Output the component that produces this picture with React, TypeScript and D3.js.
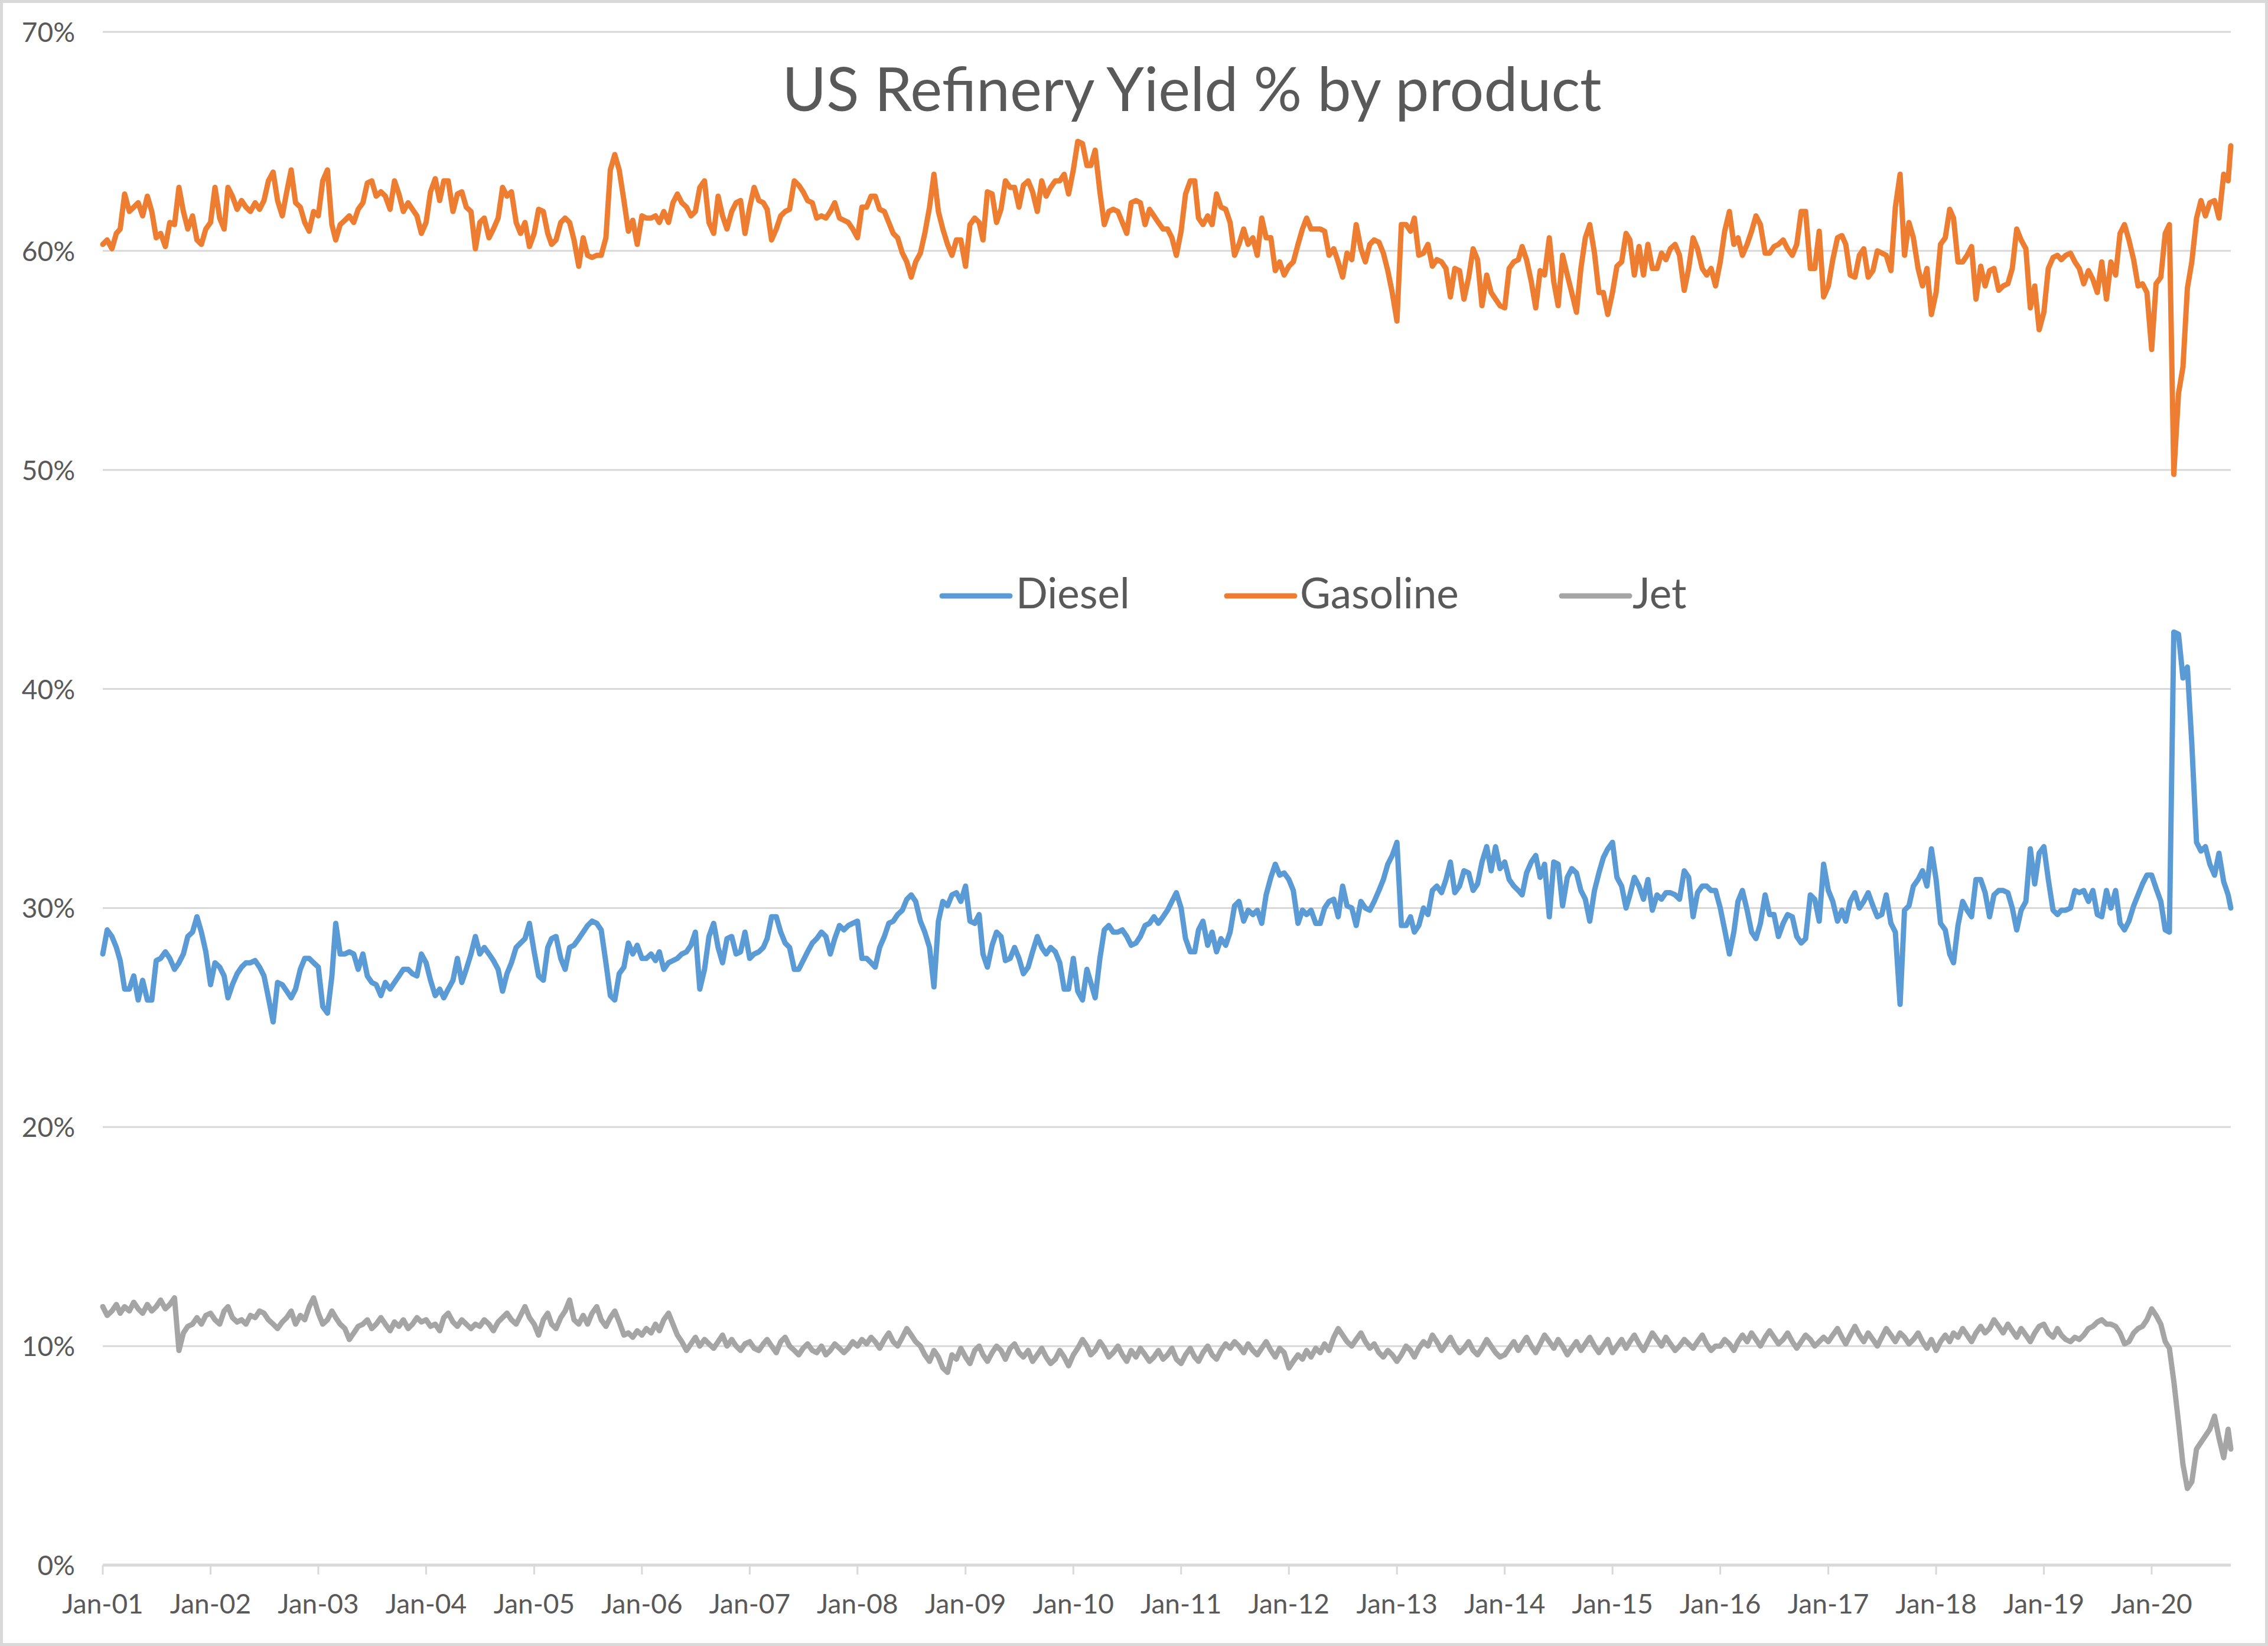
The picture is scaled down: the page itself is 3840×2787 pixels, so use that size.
import React from "react";
import * as d3 from "d3";

const WIDTH = 3840;
const HEIGHT = 2787;

const TITLE = "US Refinery Yield % by product";
const SERIES_NAMES = ["Diesel", "Gasoline", "Jet"];
const SERIES_COLORS = ["#5B9BD5", "#ED7D31", "#A5A5A5"];
const Y_TICKS = [0, 10, 20, 30, 40, 50, 60, 70];
const FIRST_YEAR = 2001;
const LAST_YEAR_TICK = 2020;
const LAST_DATE = new Date(2020, 8, 25);

// Semi-monthly readings (1st and 16th of each month), one row per year; 2020 ends with 25 Sep.
const diesel = [
  27.9, 29.0, 28.7, 28.2, 27.6, 26.3, 26.3, 26.9, 25.8, 26.7, 25.8, 25.8, 27.6, 27.7, 28.0, 27.7, 27.2, 27.5, 27.9, 28.7, 28.9, 29.6, 28.9, 28.0,
  26.5, 27.5, 27.3, 26.9, 25.9, 26.5, 27.0, 27.3, 27.5, 27.5, 27.6, 27.3, 26.9, 25.9, 24.8, 26.6, 26.5, 26.2, 25.9, 26.3, 27.2, 27.7, 27.7, 27.5,
  27.3, 25.5, 25.2, 26.9, 29.3, 27.9, 27.9, 28.0, 27.9, 27.2, 27.9, 26.9, 26.6, 26.5, 26.0, 26.6, 26.3, 26.6, 26.9, 27.2, 27.2, 27.0, 26.9, 27.9,
  27.5, 26.7, 26.0, 26.3, 25.9, 26.3, 26.7, 27.7, 26.6, 27.2, 27.9, 28.7, 27.9, 28.2, 27.9, 27.6, 27.2, 26.2, 27.0, 27.5, 28.2, 28.4, 28.6, 29.3,
  28.0, 26.9, 26.7, 28.2, 28.6, 28.7, 27.7, 27.2, 28.2, 28.3, 28.6, 28.9, 29.2, 29.4, 29.3, 29.0, 27.5, 26.0, 25.8, 27.0, 27.3, 28.4, 27.9, 28.3,
  27.7, 27.7, 27.9, 27.6, 28.0, 27.2, 27.5, 27.6, 27.7, 27.9, 28.0, 28.3, 28.9, 26.3, 27.2, 28.7, 29.3, 28.2, 27.5, 28.6, 28.7, 27.9, 28.0, 28.9,
  27.7, 27.9, 28.0, 28.2, 28.6, 29.6, 29.6, 28.9, 28.4, 28.2, 27.2, 27.2, 27.6, 28.0, 28.4, 28.6, 28.9, 28.7, 27.9, 28.6, 29.2, 29.0, 29.2, 29.3,
  29.4, 27.7, 27.7, 27.5, 27.3, 28.2, 28.7, 29.3, 29.4, 29.7, 29.9, 30.4, 30.6, 30.3, 29.4, 28.9, 28.2, 26.4, 29.4, 30.3, 30.1, 30.6, 30.7, 30.3,
  31.0, 29.4, 29.3, 29.7, 27.9, 27.3, 28.3, 28.9, 28.7, 27.6, 27.7, 28.2, 27.7, 27.0, 27.3, 28.0, 28.7, 28.2, 27.9, 28.2, 28.0, 27.5, 26.3, 26.3,
  27.7, 26.2, 25.8, 27.2, 26.6, 25.9, 27.7, 29.0, 29.2, 28.9, 28.9, 29.0, 28.7, 28.3, 28.4, 28.7, 29.2, 29.3, 29.6, 29.3, 29.6, 29.9, 30.3, 30.7,
  30.0, 28.6, 28.0, 28.0, 29.0, 29.4, 28.3, 28.9, 28.0, 28.6, 28.3, 28.9, 30.1, 30.3, 29.4, 29.9, 29.7, 29.9, 29.3, 30.6, 31.4, 32.0, 31.5, 31.6,
  31.3, 30.8, 29.3, 29.9, 29.7, 29.9, 29.3, 29.3, 30.0, 30.3, 30.4, 29.6, 31.0, 30.1, 30.0, 29.2, 30.3, 30.0, 29.9, 30.3, 30.8, 31.3, 32.0, 32.4,
  33.0, 29.2, 29.2, 29.6, 28.9, 29.2, 30.0, 29.7, 30.8, 31.0, 30.7, 31.3, 32.1, 30.7, 31.0, 31.7, 31.6, 30.8, 31.1, 32.1, 32.8, 31.7, 32.8, 31.8,
  32.1, 31.3, 31.0, 30.8, 30.6, 31.6, 32.1, 32.4, 31.4, 32.0, 29.6, 32.1, 32.0, 30.1, 31.4, 31.8, 31.6, 30.8, 30.4, 29.4, 30.8, 31.6, 32.3, 32.7,
  33.0, 31.4, 31.0, 30.0, 30.6, 31.4, 31.0, 30.4, 31.3, 29.9, 30.6, 30.4, 30.7, 30.7, 30.6, 30.4, 31.7, 31.4, 29.6, 30.7, 31.0, 31.0, 30.8, 30.8,
  30.0, 29.0, 27.9, 28.9, 30.3, 30.8, 29.9, 28.9, 28.6, 29.3, 30.6, 29.7, 29.7, 28.7, 29.3, 29.7, 29.6, 28.7, 28.4, 28.6, 30.6, 30.4, 29.4, 32.0,
  30.8, 30.3, 29.4, 29.9, 29.4, 30.3, 30.7, 30.0, 30.3, 30.7, 30.1, 29.6, 29.7, 30.6, 29.3, 28.9, 25.6, 29.9, 30.1, 31.0, 31.3, 31.7, 31.0, 32.7,
  31.3, 29.3, 29.0, 27.9, 27.5, 29.2, 30.3, 29.9, 29.6, 31.3, 31.3, 30.7, 29.6, 30.6, 30.8, 30.8, 30.7, 30.0, 29.0, 29.9, 30.3, 32.7, 31.1, 32.5,
  32.8, 31.3, 29.9, 29.7, 29.9, 29.9, 30.0, 30.8, 30.7, 30.8, 30.3, 30.8, 29.7, 29.6, 30.8, 30.0, 30.8, 29.3, 29.0, 29.4, 30.1, 30.6, 31.1, 31.5,
  31.5, 30.9, 30.3, 29.0, 28.9, 42.6, 42.5, 40.5, 41.0, 37.5, 33.0, 32.6, 32.8, 32.0, 31.5, 32.5, 31.2, 30.6, 30.0,
];

const gasoline = [
  60.3, 60.5, 60.1, 60.8, 61.0, 62.6, 61.8, 62.0, 62.2, 61.6, 62.5, 61.8, 60.6, 60.8, 60.2, 61.3, 61.2, 62.9, 61.8, 61.0, 61.6, 60.5, 60.3, 61.0,
  61.3, 62.9, 61.5, 61.0, 62.9, 62.5, 61.9, 62.3, 62.0, 61.8, 62.2, 61.9, 62.3, 63.2, 63.6, 62.3, 61.6, 62.7, 63.7, 62.2, 62.0, 61.3, 60.9, 61.8,
  61.6, 63.2, 63.7, 61.2, 60.5, 61.2, 61.4, 61.6, 61.3, 61.9, 62.2, 63.1, 63.2, 62.5, 62.7, 62.5, 61.9, 63.2, 62.6, 61.8, 62.2, 61.9, 61.6, 60.8,
  61.3, 62.7, 63.3, 62.3, 63.2, 63.2, 61.8, 62.6, 62.7, 62.0, 61.8, 60.1, 61.3, 61.5, 60.6, 61.0, 61.5, 62.9, 62.5, 62.7, 61.3, 60.8, 61.3, 60.2,
  60.8, 61.9, 61.8, 60.8, 60.3, 60.5, 61.3, 61.5, 61.3, 60.5, 59.3, 60.6, 59.8, 59.7, 59.8, 59.8, 60.6, 63.7, 64.4, 63.7, 62.3, 60.9, 61.4, 60.3,
  61.6, 61.5, 61.5, 61.6, 61.3, 61.8, 61.3, 62.2, 62.6, 62.2, 62.0, 61.6, 61.8, 62.9, 63.2, 61.3, 60.8, 62.5, 61.6, 61.0, 61.8, 62.2, 62.3, 60.8,
  62.0, 62.9, 62.3, 62.2, 61.9, 60.5, 61.0, 61.6, 61.8, 61.9, 63.2, 63.0, 62.7, 62.3, 62.2, 61.5, 61.6, 61.5, 61.8, 62.2, 61.5, 61.4, 61.3, 61.0,
  60.6, 62.0, 62.0, 62.5, 62.5, 61.9, 61.8, 61.3, 60.8, 60.6, 59.9, 59.5, 58.8, 59.5, 59.9, 60.8, 62.0, 63.5, 61.8, 61.0, 60.3, 59.8, 60.5, 60.5,
  59.3, 61.2, 61.5, 61.3, 60.5, 62.7, 62.6, 61.3, 61.9, 63.2, 62.9, 62.9, 62.0, 63.0, 63.2, 62.7, 61.8, 63.2, 62.5, 62.9, 63.2, 63.2, 63.5, 62.6,
  63.7, 65.0, 64.9, 63.9, 63.9, 64.6, 62.7, 61.2, 61.8, 61.9, 61.8, 61.3, 60.8, 62.2, 62.3, 62.2, 61.2, 61.9, 61.6, 61.3, 61.0, 61.0, 60.6, 59.8,
  60.9, 62.6, 63.2, 63.2, 61.5, 61.2, 61.6, 61.2, 62.6, 62.0, 61.9, 61.3, 59.8, 60.3, 61.0, 60.3, 60.6, 59.8, 61.5, 60.6, 60.6, 59.1, 59.5, 58.9,
  59.3, 59.5, 60.3, 61.0, 61.5, 61.0, 61.0, 61.0, 60.9, 59.8, 60.1, 59.5, 58.8, 59.9, 59.6, 61.2, 60.1, 59.5, 60.3, 60.5, 60.4, 59.9, 59.1, 58.1,
  56.8, 61.2, 61.2, 60.9, 61.5, 59.8, 59.9, 60.3, 59.3, 59.6, 59.5, 59.2, 57.9, 59.2, 59.1, 57.8, 58.8, 60.1, 59.6, 57.5, 58.9, 58.1, 57.8, 57.5,
  57.4, 59.2, 59.5, 59.6, 60.2, 59.6, 58.6, 57.4, 59.1, 58.9, 60.6, 58.6, 57.5, 59.8, 58.9, 58.1, 57.2, 59.2, 60.6, 61.2, 59.9, 58.1, 58.1, 57.1,
  58.1, 59.3, 59.5, 60.8, 60.5, 58.9, 60.2, 58.9, 60.3, 59.2, 59.2, 59.9, 59.6, 60.1, 60.3, 59.8, 58.2, 59.2, 60.6, 60.1, 59.2, 58.9, 59.2, 58.4,
  59.5, 60.9, 61.8, 60.3, 60.6, 59.8, 60.3, 60.9, 61.6, 61.2, 59.9, 59.9, 60.2, 60.3, 60.5, 60.1, 59.8, 60.3, 61.8, 61.8, 59.2, 59.2, 60.9, 57.9,
  58.4, 59.6, 60.6, 60.7, 60.3, 58.9, 58.8, 59.8, 60.1, 58.8, 59.1, 60.0, 59.9, 59.8, 59.1, 62.0, 63.5, 59.8, 61.3, 60.6, 59.2, 58.4, 59.2, 57.1,
  58.1, 60.3, 60.6, 61.9, 61.5, 59.5, 59.5, 59.8, 60.2, 57.8, 59.3, 58.4, 59.1, 59.2, 58.2, 58.4, 58.5, 59.2, 61.0, 60.5, 60.1, 57.4, 58.4, 56.4,
  57.2, 59.2, 59.7, 59.8, 59.6, 59.8, 59.9, 59.5, 59.2, 58.5, 59.1, 58.7, 58.1, 59.5, 57.8, 59.5, 58.9, 60.8, 61.2, 60.5, 59.6, 58.4, 58.5, 58.1,
  55.5, 58.5, 58.8, 60.8, 61.2, 49.8, 53.5, 54.7, 58.3, 59.5, 61.5, 62.3, 61.6, 62.2, 62.3, 61.5, 63.5, 63.2, 64.8,
];

const jet = [
  11.8, 11.4, 11.6, 11.9, 11.5, 11.8, 11.6, 12.0, 11.7, 11.5, 11.9, 11.6, 11.8, 12.1, 11.7, 11.9, 12.2, 9.8, 10.6, 10.9, 11.0, 11.3, 11.0, 11.4,
  11.5, 11.2, 11.0, 11.6, 11.8, 11.3, 11.1, 11.2, 11.0, 11.4, 11.3, 11.6, 11.5, 11.2, 11.0, 10.8, 11.1, 11.3, 11.6, 11.0, 11.4, 11.2, 11.8, 12.2,
  11.5, 11.0, 11.2, 11.6, 11.3, 11.0, 10.8, 10.3, 10.6, 10.9, 11.0, 11.2, 10.8, 11.0, 11.3, 11.0, 10.7, 11.1, 10.9, 11.2, 10.8, 11.0, 11.3, 11.1,
  11.2, 10.9, 11.0, 10.7, 11.3, 11.5, 11.1, 10.9, 11.2, 11.0, 10.8, 11.0, 10.9, 11.2, 11.0, 10.7, 11.1, 11.3, 11.5, 11.2, 11.0, 11.4, 11.8, 11.3,
  11.0, 10.5, 11.2, 11.5, 11.0, 10.8, 11.3, 11.6, 12.1, 11.2, 11.0, 11.4, 11.0, 11.5, 11.8, 11.2, 10.9, 11.3, 11.6, 11.1, 10.5, 10.6, 10.4, 10.7,
  10.5, 10.8, 10.6, 11.0, 10.7, 11.2, 11.5, 11.0, 10.5, 10.2, 9.8, 10.1, 10.4, 10.0, 10.3, 10.1, 9.9, 10.2, 10.5, 10.0, 10.3, 10.0, 9.8, 10.1,
  10.2, 9.9, 9.8, 10.1, 10.3, 10.0, 9.7, 10.2, 10.4, 10.0, 9.8, 9.6, 9.9, 10.1, 9.8, 9.7, 10.0, 9.6, 9.8, 10.1, 9.9, 9.7, 9.9, 10.2,
  10.0, 10.3, 10.1, 10.4, 10.2, 9.9, 10.3, 10.6, 10.2, 10.0, 10.4, 10.8, 10.5, 10.2, 10.0, 9.6, 9.3, 9.8, 9.5, 9.0, 8.8, 9.6, 9.4, 9.9,
  9.5, 9.2, 9.8, 10.0, 9.6, 9.3, 9.7, 10.0, 9.8, 9.4, 9.9, 10.1, 9.7, 9.5, 9.8, 9.3, 9.6, 9.9, 9.5, 9.2, 9.4, 9.8, 9.5, 9.1,
  9.6, 9.9, 10.3, 10.0, 9.6, 9.8, 10.2, 9.9, 9.5, 9.7, 10.0, 9.6, 9.3, 9.8, 9.5, 9.9, 9.6, 9.3, 9.5, 9.8, 9.4, 9.6, 9.9, 9.4,
  9.2, 9.6, 9.9, 9.5, 9.3, 9.7, 10.0, 9.6, 9.4, 9.8, 10.1, 9.9, 10.2, 10.0, 9.7, 10.1, 9.8, 9.6, 9.9, 10.2, 9.8, 9.5, 9.9, 9.7,
  9.0, 9.3, 9.6, 9.4, 9.8, 9.5, 9.9, 9.7, 10.1, 9.8, 10.4, 10.8, 10.5, 10.2, 10.0, 10.3, 10.6, 10.2, 9.9, 10.1, 9.7, 9.5, 9.8, 9.6,
  9.3, 9.6, 10.0, 9.8, 9.5, 9.9, 10.2, 10.0, 10.5, 10.2, 9.8, 10.1, 10.4, 10.0, 9.7, 9.9, 10.2, 9.8, 9.6, 9.9, 10.3, 10.0, 9.7, 9.5,
  9.6, 9.9, 10.2, 9.8, 10.1, 10.4, 10.0, 9.7, 10.1, 10.5, 10.2, 9.9, 10.3, 10.0, 9.6, 9.9, 10.2, 9.8, 10.1, 10.4, 10.0, 9.7, 10.0, 10.3,
  9.7, 10.0, 10.3, 9.9, 10.2, 10.5, 10.1, 9.8, 10.2, 10.6, 10.3, 10.0, 10.4, 10.1, 9.8, 10.0, 10.3, 10.1, 9.9, 10.2, 10.5, 10.1, 9.8, 10.0,
  10.0, 10.3, 10.1, 9.8, 10.2, 10.5, 10.2, 10.6, 10.3, 10.0, 10.4, 10.7, 10.4, 10.1, 10.3, 10.6, 10.2, 9.9, 10.2, 10.5, 10.3, 10.0, 10.2, 10.4,
  10.2, 10.5, 10.8, 10.4, 10.1, 10.5, 10.9, 10.5, 10.2, 10.6, 10.3, 10.0, 10.4, 10.8, 10.5, 10.2, 10.6, 10.4, 10.1, 10.3, 10.6, 10.2, 9.9, 10.3,
  9.8, 10.2, 10.5, 10.2, 10.6, 10.4, 10.8, 10.5, 10.2, 10.6, 10.9, 10.6, 10.8, 11.2, 10.9, 10.6, 11.0, 10.7, 10.4, 10.8, 10.5, 10.2, 10.6, 10.9,
  11.0, 10.6, 10.4, 10.8, 10.5, 10.3, 10.2, 10.4, 10.3, 10.5, 10.8, 10.9, 11.1, 11.2, 11.0, 11.0, 10.9, 10.6, 10.1, 10.2, 10.6, 10.8, 10.9, 11.2,
  11.7, 11.4, 11.0, 10.2, 9.9, 8.4, 6.5, 4.6, 3.5, 3.8, 5.3, 5.6, 5.9, 6.2, 6.8, 5.8, 4.9, 6.2, 5.3,
];

const SERIES_VALUES = [diesel, gasoline, jet];

// Category axis: 1st and 16th of every month from Jan 2001; last reading on LAST_DATE
const dates: Date[] = (() => {
  const out: Date[] = [];
  for (let k = 0; k < diesel.length - 1; k++) {
    const yr = FIRST_YEAR + Math.floor(k / 24);
    const mo = Math.floor((k % 24) / 2);
    out.push(new Date(yr, mo, k % 2 === 0 ? 1 : 16));
  }
  out.push(LAST_DATE);
  return out;
})();

const X_TICKS = d3.range(FIRST_YEAR, LAST_YEAR_TICK + 1).map((yr) => new Date(yr, 0, 1));

const FONT = "Lato, 'Open Sans', 'DejaVu Sans', sans-serif";
const TEXT_COLOR = "#595959";
const GRID_COLOR = "#D9D9D9";

export default function App() {
  const x = d3.scaleTime().domain([new Date(FIRST_YEAR, 0, 1), LAST_DATE]).range([174, 3777]);
  const y = d3.scaleLinear().domain([0, 70]).range([2650, 54]);
  const fmt = d3.timeFormat("%b-%y");

  const line = d3
    .line<number>()
    .x((_, i) => x(dates[i]))
    .y((d) => y(d));

  const legendItems = [
    { lx: 1595, tx: 1720 },
    { lx: 2077, tx: 2201 },
    { lx: 2644, tx: 2764 },
  ];

  return (
    <svg
      width={WIDTH}
      height={HEIGHT}
      viewBox={`0 0 ${WIDTH} ${HEIGHT}`}
      style={{ position: "absolute", left: 0, top: 0, display: "block", background: "#fff" }}
      fontFamily={FONT}
    >
      <rect x={0} y={0} width={WIDTH} height={HEIGHT} fill="#ffffff" />
      <rect x={2.5} y={2.5} width={WIDTH - 5} height={HEIGHT - 5} fill="none" stroke={GRID_COLOR} strokeWidth={5} />

      {/* gridlines */}
      {Y_TICKS.map((t) => (
        <line
          key={`g${t}`}
          x1={x.range()[0]}
          x2={x.range()[1]}
          y1={y(t)}
          y2={y(t)}
          stroke={GRID_COLOR}
          strokeWidth={t === 0 ? 5 : 3}
        />
      ))}

      {/* y labels */}
      {Y_TICKS.map((t) => (
        <text key={`yl${t}`} x={127} y={y(t) + 17} textAnchor="end" fontSize={46} fill={TEXT_COLOR}>
          {`${t}%`}
        </text>
      ))}

      {/* x ticks and labels */}
      {X_TICKS.map((d) => (
        <g key={`xt${d.getFullYear()}`}>
          <line x1={x(d)} x2={x(d)} y1={y(0)} y2={y(0) + 16} stroke={GRID_COLOR} strokeWidth={3} />
          <text x={x(d)} y={2732} textAnchor="middle" fontSize={46} fill={TEXT_COLOR}>
            {fmt(d)}
          </text>
        </g>
      ))}

      {/* series */}
      {SERIES_VALUES.map((vals, si) => (
        <path
          key={SERIES_NAMES[si]}
          d={line(vals) || ""}
          fill="none"
          stroke={SERIES_COLORS[si]}
          strokeWidth={9}
          strokeLinejoin="round"
          strokeLinecap="round"
        />
      ))}

      {/* title */}
      <text x={2018} y={188} textAnchor="middle" fontSize={102} fill={TEXT_COLOR}>
        {TITLE}
      </text>

      {/* legend */}
      {SERIES_NAMES.map((name, i) => (
        <g key={`lg${name}`}>
          <line
            x1={legendItems[i].lx}
            x2={legendItems[i].lx + 115}
            y1={1009}
            y2={1009}
            stroke={SERIES_COLORS[i]}
            strokeWidth={9}
            strokeLinecap="round"
          />
          <text x={legendItems[i].tx} y={1030} fontSize={71} fill={TEXT_COLOR}>
            {name}
          </text>
        </g>
      ))}
    </svg>
  );
}
